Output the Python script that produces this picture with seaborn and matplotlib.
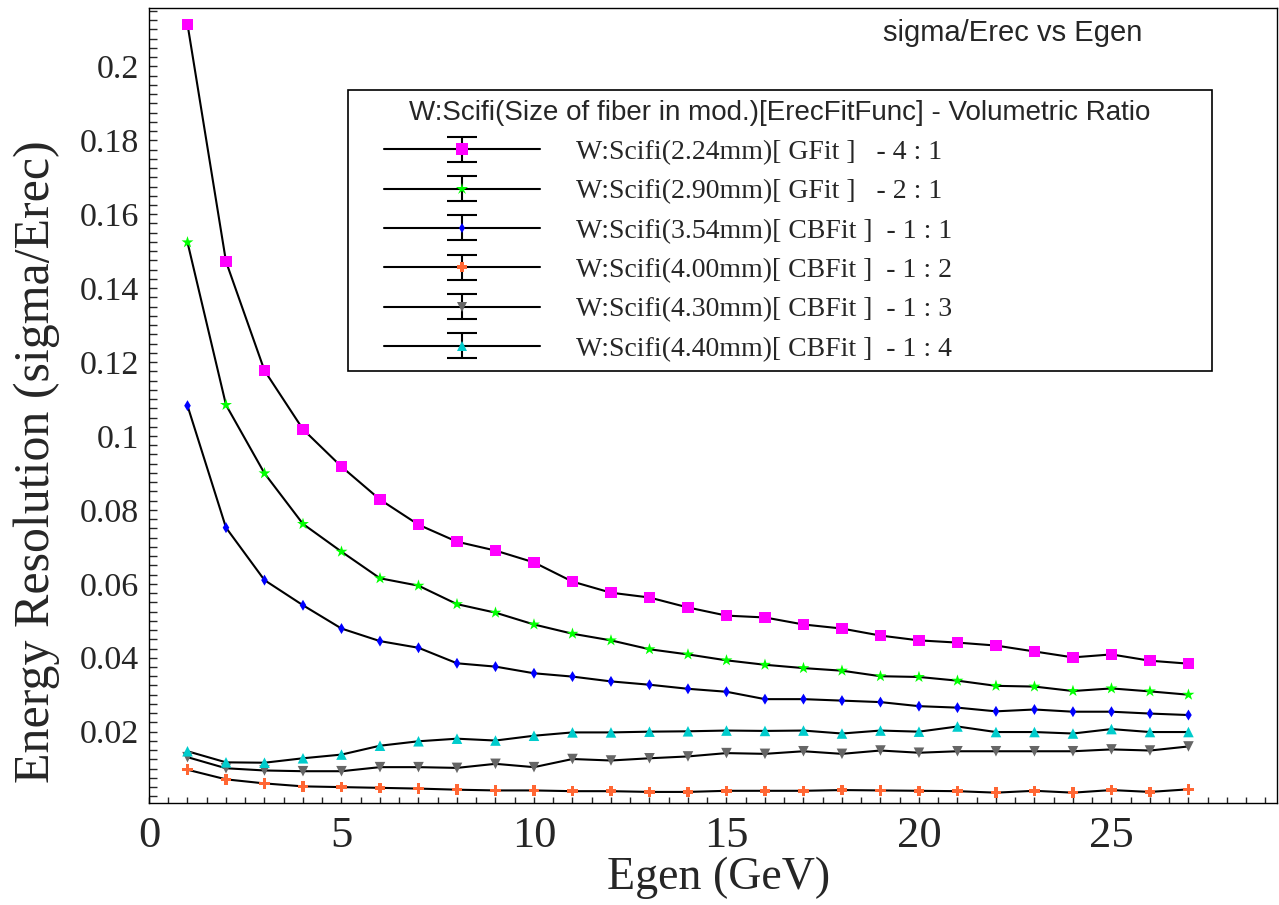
import numpy as np
import pandas as pd
import matplotlib
matplotlib.use("Agg")
import matplotlib.pyplot as plt
import seaborn as sns
from matplotlib.ticker import MultipleLocator
from matplotlib.lines import Line2D
from matplotlib.collections import LineCollection
from matplotlib.container import ErrorbarContainer
from matplotlib.legend_handler import HandlerErrorbar

# ---------------- data ----------------
egen = list(range(1, 28))

res_224 = [0.2114, 0.1472, 0.1177, 0.1018, 0.0917, 0.0828, 0.0760, 0.0714, 0.0690,
           0.0658, 0.0606, 0.0576, 0.0563, 0.0536, 0.0514, 0.0509, 0.0490, 0.0479,
           0.0460, 0.0447, 0.0441, 0.0433, 0.0417, 0.0401, 0.0409, 0.0392, 0.0384]
res_290 = [0.1524, 0.1084, 0.0899, 0.0762, 0.0687, 0.0615, 0.0595, 0.0545, 0.0522,
           0.0490, 0.0465, 0.0447, 0.0423, 0.0409, 0.0393, 0.0381, 0.0372, 0.0365,
           0.0350, 0.0348, 0.0338, 0.0324, 0.0322, 0.0310, 0.0317, 0.0309, 0.0300]
res_354 = [0.1082, 0.0752, 0.0610, 0.0542, 0.0479, 0.0445, 0.0427, 0.0385, 0.0376,
           0.0358, 0.0349, 0.0336, 0.0327, 0.0316, 0.0308, 0.0288, 0.0288, 0.0284,
           0.0280, 0.0269, 0.0265, 0.0255, 0.0260, 0.0254, 0.0254, 0.0249, 0.0245]
res_400 = [0.0097, 0.0071, 0.0060, 0.0052, 0.0050, 0.0048, 0.0046, 0.0043, 0.0041,
           0.0041, 0.0039, 0.0039, 0.0037, 0.0037, 0.0040, 0.0040, 0.0040, 0.0042,
           0.0041, 0.0040, 0.0039, 0.0035, 0.0040, 0.0035, 0.0042, 0.0037, 0.0044]
res_430 = [0.0131, 0.0101, 0.0095, 0.0093, 0.0093, 0.0104, 0.0104, 0.0102, 0.0113,
           0.0104, 0.0126, 0.0122, 0.0128, 0.0133, 0.0142, 0.0140, 0.0147, 0.0140,
           0.0149, 0.0143, 0.0147, 0.0147, 0.0147, 0.0147, 0.0152, 0.0149, 0.0160]
res_440 = [0.0147, 0.0117, 0.0116, 0.0128, 0.0138, 0.0162, 0.0174, 0.0181, 0.0176,
           0.0189, 0.0198, 0.0198, 0.0200, 0.0201, 0.0203, 0.0202, 0.0203, 0.0195,
           0.0203, 0.0200, 0.0214, 0.0199, 0.0199, 0.0195, 0.0207, 0.0199, 0.0199]

series_labels = [
    "W:Scifi(2.24mm)[ GFit ]   - 4 : 1",
    "W:Scifi(2.90mm)[ GFit ]   - 2 : 1",
    "W:Scifi(3.54mm)[ CBFit ]  - 1 : 1",
    "W:Scifi(4.00mm)[ CBFit ]  - 1 : 2",
    "W:Scifi(4.30mm)[ CBFit ]  - 1 : 3",
    "W:Scifi(4.40mm)[ CBFit ]  - 1 : 4",
]
series_values = [res_224, res_290, res_354, res_400, res_430, res_440]

legend_header = "W:Scifi(Size of fiber in mod.)[ErecFitFunc] - Volumetric Ratio"
title_text = "sigma/Erec vs Egen"
x_title = "Egen (GeV)"
y_title = "Energy Resolution (sigma/Erec)"

x_ticks = [0, 5, 10, 15, 20, 25]
x_tick_labels = ["0", "5", "10", "15", "20", "25"]
y_ticks = [0.02, 0.04, 0.06, 0.08, 0.10, 0.12, 0.14, 0.16, 0.18, 0.20]
y_tick_labels = ["0.02", "0.04", "0.06", "0.08", "0.1", "0.12", "0.14", "0.16", "0.18", "0.2"]

# ---------------- styles ----------------
colors = ["#ff00ff", "#00ff00", "#0000ff", "#ff6633", "#666666", "#00cccc"]
markers = ["s", "*", "d", "P", "v", "^"]
msizes = [8.0, 9.0, 5.6, 7.6, 7.6, 7.6]   # points

sns.set_style("white")
plt.rcParams["font.family"] = ["Liberation Serif", "DejaVu Serif"]

df = pd.concat(
    [pd.DataFrame({"Egen": egen, "res": vals, "series": lab})
     for lab, vals in zip(series_labels, series_values)],
    ignore_index=True)

fig = plt.figure(figsize=(12.79, 9.05), dpi=100)
ax = fig.add_axes([149 / 1279, 102 / 905, 1128 / 1279, 795 / 905])

sns.lineplot(data=df, x="Egen", y="res", units="series", estimator=None,
             color="black", linewidth=1.5, sort=False, legend=False, ax=ax, zorder=2)
sns.scatterplot(data=df, x="Egen", y="res", hue="series", style="series", size="series",
                palette=dict(zip(series_labels, colors)),
                markers=dict(zip(series_labels, markers)),
                sizes=dict(zip(series_labels, [m ** 2 for m in msizes])),
                linewidth=0, legend=False, ax=ax, zorder=3)

ax.set_xlim(0, 29.3)
ax.set_ylim(0.0007, 0.2158)

# axis ticks (ROOT-like three levels)
ax.set_xticks(x_ticks)
ax.set_xticklabels(x_tick_labels)
ax.xaxis.set_minor_locator(MultipleLocator(1))
ax.tick_params(axis="x", which="major", direction="in", length=18, width=1,
               labelsize=32, pad=9, top=False, color="black")
ax.tick_params(axis="x", which="minor", direction="in", length=9, width=1, top=False)

ax.set_yticks(y_ticks)
ax.set_yticklabels(y_tick_labels)
ax.yaxis.set_minor_locator(MultipleLocator(0.005))
ax.tick_params(axis="y", which="major", direction="in", length=24.5, width=1,
               labelsize=24.5, pad=7, right=False, color="black")
ax.tick_params(axis="y", which="minor", direction="in", length=12.7, width=1, right=False)

secx = ax.secondary_xaxis("bottom")
secx.xaxis.set_major_locator(MultipleLocator(0.5))
secx.tick_params(axis="x", which="major", direction="in", length=4.3, width=1, labelbottom=False)
secx.xaxis.set_minor_locator(plt.NullLocator())
secx.spines["bottom"].set_visible(False)

secy = ax.secondary_yaxis("left")
secy.yaxis.set_major_locator(MultipleLocator(0.0025))
secy.tick_params(axis="y", which="major", direction="in", length=6, width=1, labelleft=False)
secy.yaxis.set_minor_locator(plt.NullLocator())
secy.spines["left"].set_visible(False)

for sp in ax.spines.values():
    sp.set_linewidth(1.0)
    sp.set_color("black")

ax.set_xlabel(x_title, fontsize=33, family="Liberation Serif")
ax.set_ylabel(y_title, fontsize=36, family="Liberation Serif")
ax.xaxis.set_label_coords(0.505, -0.0943)
ax.xaxis.label.set_va("center")
ax.yaxis.set_label_coords(-0.0993, 0.429)
ax.yaxis.label.set_va("center")

fig.text(1013 / 1279, 1 - 33 / 905, title_text, fontsize=21, family="Liberation Sans",
         ha="center", va="center")

# ---------------- legend with error-bar style handles ----------------
handles = []
for c, m, ms in zip(colors, markers, msizes):
    line = Line2D([], [], color="black", linewidth=1.5, marker=m, markersize=ms,
                  markerfacecolor=c, markeredgecolor=c, markeredgewidth=0)
    cap = Line2D([], [], color="black", marker="_", markersize=22, markeredgewidth=1.5,
                 linestyle="none")
    bar = LineCollection([], colors="black", linewidths=1.5)
    handles.append(ErrorbarContainer((line, (cap, cap), (bar,)), has_xerr=False, has_yerr=True))

x0 = (348 - 149) / 1128
x1 = (1212 - 149) / 1128
ytop = (803 - 90) / 795
ybot = (803 - 364) / 795
leg = ax.legend(handles, series_labels, loc="upper left",
                bbox_to_anchor=(x0, ybot, x1 - x0, ytop - ybot), mode="expand",
                borderaxespad=0, borderpad=0.35, fontsize=20, numpoints=1,
                handlelength=6.55, handletextpad=1.3, labelspacing=0.5,
                handler_map={ErrorbarContainer: HandlerErrorbar(xpad=0.95, yerr_size=0.45)},
                frameon=True, fancybox=False, framealpha=1, edgecolor="black",
                title=legend_header,
                title_fontproperties={"family": "Liberation Sans", "size": 20})
leg.get_frame().set_linewidth(1.2)

fig.savefig("out.png", dpi=100)
